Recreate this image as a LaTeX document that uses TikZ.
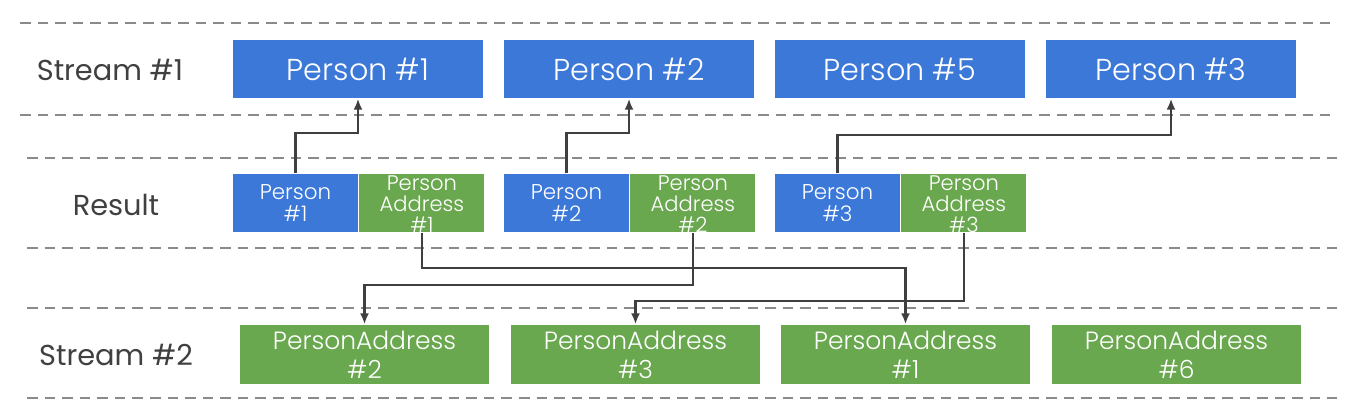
\documentclass[tikz,border=0pt]{standalone}
\usepackage{fontspec}
\setmainfont{Poppins}
\newfontfamily\lightfont{Poppins Light}
\usepackage{xcolor}
\usepackage{tikz}
\usetikzlibrary{positioning,calc,arrows.meta}

\definecolor{slideblue}{HTML}{3C78D8}
\definecolor{slidegreen}{HTML}{6AA84F}
\definecolor{linkgray}{HTML}{3F3F3F}
\definecolor{sepgray}{HTML}{8A8A8A}
\definecolor{lanegray}{HTML}{404040}

\tikzset{
    sep/.style={draw=sepgray, line width=0.7pt, dash pattern=on 3pt off 2pt},
    lane/.style={text=lanegray, font=\fontsize{8.2}{10}\selectfont},
    person/.style={fill=slideblue, text=white, minimum width=2.5cm, minimum height=0.58cm, inner sep=0pt, font=\lightfont\fontsize{8.6}{10}\selectfont},
    rperson/.style={fill=slideblue, text=white, minimum width=1.25cm, minimum height=0.58cm, inner sep=0pt, align=center, font=\lightfont\fontsize{6.1}{6.3}\selectfont},
    raddr/.style={fill=slidegreen, minimum width=1.25cm, minimum height=0.58cm, inner sep=0pt},
    rtext/.style={text=white, inner sep=0pt, align=center, font=\lightfont\fontsize{6}{5.9}\selectfont},
    addr/.style={fill=slidegreen, text=white, minimum width=2.49cm, minimum height=0.59cm, inner sep=0pt, align=center, font=\lightfont\fontsize{7.1}{8.3}\selectfont},
    link/.style={draw=linkgray, line width=0.6pt, -{Latex[length=1.1mm,width=0.9mm]}}
}

\begin{document}
\begin{tikzpicture}
    \useasboundingbox (0,0) rectangle (13.66,4.2);

    % Lane separators
    \foreach \y/\a/\b in {3.97/0.20/13.30, 3.05/0.20/13.30, 2.62/0.27/13.37, 1.72/0.27/13.37, 1.12/0.27/13.37, 0.22/0.27/13.37} {
        \draw[sep] (\a,\y) -- (\b,\y);
    }

    % Lane labels
    \node[lane] (lbls1) at (1.10,3.50) {Stream \#1};
    \node[lane] (lblres) at (1.16,2.15) {Result};
    \node[lane] (lbls2) at (1.16,0.65) {Stream \#2};

    % Stream #1
    \foreach \x/\n in {3.58/1, 6.29/2, 9.00/5, 11.71/3} {
        \node[person] (p\n) at (\x,3.51) {Person \#\n};
    }

    % Result pairs
    \foreach \x/\n in {2.955/1, 5.665/2, 8.375/3} {
        \node[rperson] (rp\n) at (\x,2.17) {Person\\\#\n};
        \node[raddr, right=0pt of rp\n] (ra\n) {};
        \node[rtext] (rt\n) at ($(ra\n.center)+(0,-0.01)$) {Person\\Address\\\#\n};
    }

    % Stream #2
    \foreach \x/\n in {3.645/2, 6.355/3, 9.055/1, 11.765/6} {
        \node[addr] (a\n) at (\x,0.655) {PersonAddress\\\#\n};
    }

    % Joins
    \draw[link] (rp1.north) -- ++(0,0.40) -| (p1.south);
    \draw[link] (rp2.north) -- ++(0,0.40) -| (p2.south);
    \draw[link] (rp3.north) -- ++(0,0.38) -| (p3.south);
    \draw[link] (ra1.south) -- ++(0,-0.35) -| (a1.north);
    \draw[link] (ra2.south) -- ++(0,-0.52) -| (a2.north);
    \draw[link] (ra3.south) -- ++(0,-0.68) -| (a3.north);
\end{tikzpicture}
\end{document}
